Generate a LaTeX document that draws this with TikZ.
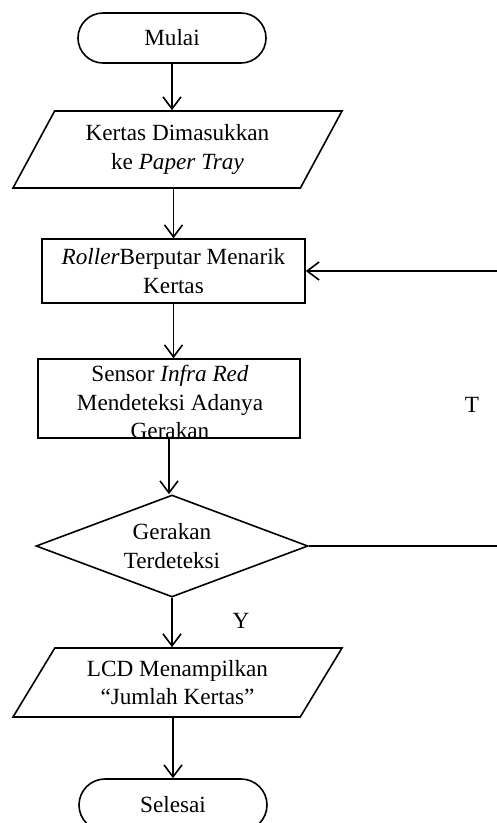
\documentclass[tikz,border=0pt]{standalone}
\usepackage{fontspec}
\setmainfont{Liberation Serif}
\usetikzlibrary{shapes.geometric,shapes.misc,arrows.meta}

\begin{document}
\begin{tikzpicture}[x=1pt,y=-1pt,line width=1.6pt,
  font=\fontsize{23.2}{28.5}\selectfont,
  term/.style={draw,rounded rectangle,minimum width=188pt,minimum height=50pt,inner sep=0pt},
  io/.style={draw,trapezium,trapezium left angle=#1,trapezium right angle=180-#1,
    trapezium stretches body,minimum width=329pt,inner sep=0pt,align=center},
  proc/.style={draw,rectangle,inner sep=0pt,align=center},
  arr/.style={-{Straight Barb[length=12pt,width=18pt]}}]
\useasboundingbox (0,0) rectangle (496,823);
\node[term] (start) at (172,38) {Mulai};
\node[io=50,minimum height=77pt] (tray) at (177.5,149.5)
  {Kertas Dimasukkan\\ke \textit{Paper Tray}};
\node[proc,minimum width=263pt,minimum height=64pt] (roller) at (173.5,271)
  {\textit{Roller}Berputar Menarik\\Kertas};
\node[proc,minimum width=262pt,minimum height=79pt] (sensor) at (169,398.5) {};
\node[align=center,inner sep=0pt] (sensortxt) at (170,402)
  {Sensor \textit{Infra Red}\\Mendeteksi Adanya\\Gerakan};
\node[draw,diamond,aspect=2.67,minimum width=272pt,minimum height=102pt,
  inner sep=0pt,align=center] (cek) at (172,546) {Gerakan\\Terdeteksi};
\node[io=47,minimum height=69pt] (lcd) at (177.5,682.5)
  {LCD Menampilkan\\“Jumlah Kertas”};
\node[term,minimum height=52pt] (stop) at (173,805) {Selesai};
\node (lblT) at (472,405) {T};
\node (lblY) at (241,621) {Y};
\coordinate (loopR) at (500,546);
% alur utama
\draw[arr] (start.south) -- (start.south |- tray.north);
\draw[arr] (tray.south -| roller.north) -- (roller.north);
\draw[arr] (roller.south) -- (roller.south |- sensor.north);
\draw[arr] (sensor.south) -- (sensor.south |- cek.north);
\draw[arr] (cek.south) -- (cek.south |- lcd.north);
\draw[arr] (lcd.south -| stop.north) -- (stop.north);
% kembali ke roller
\draw[arr] (cek.east) -- (loopR) |- (roller.east);
\end{tikzpicture}
\end{document}
